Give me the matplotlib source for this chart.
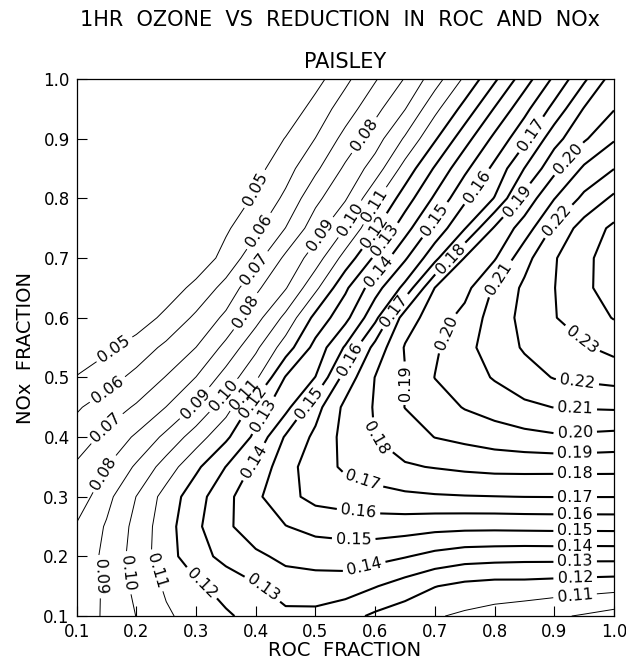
import matplotlib
matplotlib.use("Agg")
import matplotlib.pyplot as plt
import numpy as np

# grid of the isopleth diagram (ROC fraction along x, NOx fraction along y)
roc = [0.10, 0.15, 0.20, 0.25, 0.30, 0.35, 0.40, 0.45, 0.50, 0.55,
       0.60, 0.65, 0.70, 0.75, 0.80, 0.85, 0.90, 0.95, 1.00]
nox = [0.10, 0.15, 0.20, 0.25, 0.30, 0.35, 0.40, 0.45, 0.50, 0.55,
       0.60, 0.65, 0.70, 0.75, 0.80, 0.85, 0.90, 0.95, 1.00]

# peak 1hr ozone (ppm), one row per NOx fraction, bottom row first
ozone = [
    [0.084, 0.0917, 0.1002, 0.1086, 0.1139, 0.1186, 0.1235, 0.1275, 0.1275, 0.1235, 0.1182, 0.1145, 0.1109, 0.1083, 0.106, 0.1037, 0.1014, 0.099, 0.096],
    [0.082, 0.092, 0.1025, 0.1115, 0.118, 0.124, 0.129, 0.135, 0.1353, 0.135, 0.1305, 0.1255, 0.1203, 0.1174, 0.1161, 0.1162, 0.1153, 0.1145, 0.1137],
    [0.083, 0.0925, 0.104, 0.116, 0.126, 0.133, 0.138, 0.1424, 0.1441, 0.1448, 0.1433, 0.1406, 0.137, 0.1344, 0.1337, 0.1332, 0.1333, 0.1331, 0.1332],
    [0.081, 0.091, 0.103, 0.116, 0.128, 0.138, 0.146, 0.1497, 0.153, 0.154, 0.1548, 0.1543, 0.153, 0.1525, 0.1524, 0.1527, 0.1529, 0.1529, 0.153],
    [0.0738, 0.087, 0.1002, 0.114, 0.126, 0.137, 0.148, 0.157, 0.163, 0.165, 0.1665, 0.168, 0.169, 0.1695, 0.1698, 0.1701, 0.1702, 0.1702, 0.1702],
    [0.0716, 0.080, 0.0915, 0.1045, 0.118, 0.1302, 0.1424, 0.1564, 0.1652, 0.1717, 0.1753, 0.179, 0.1805, 0.182, 0.183, 0.1831, 0.183, 0.1831, 0.183],
    [0.0643, 0.0727, 0.0815, 0.0925, 0.105, 0.1181, 0.1325, 0.1512, 0.1622, 0.1732, 0.1802, 0.185, 0.1902, 0.1925, 0.195, 0.197, 0.1985, 0.198, 0.197],
    [0.0589, 0.0647, 0.0712, 0.0802, 0.0914, 0.1058, 0.1248, 0.1368, 0.1563, 0.1725, 0.1808, 0.1902, 0.1954, 0.2006, 0.2042, 0.2078, 0.2102, 0.2108, 0.2113],
    [0.0505, 0.0562, 0.0626, 0.0705, 0.0802, 0.0941, 0.108, 0.1307, 0.1402, 0.164, 0.1803, 0.1896, 0.2002, 0.2054, 0.2108, 0.2162, 0.2205, 0.222, 0.2235],
    [0.043, 0.048, 0.0547, 0.0621, 0.0701, 0.0828, 0.098, 0.115, 0.1334, 0.1512, 0.1734, 0.1908, 0.1985, 0.207, 0.2147, 0.221, 0.2249, 0.2289, 0.233],
    [0.036, 0.040, 0.044, 0.0527, 0.0618, 0.0722, 0.0863, 0.1026, 0.123, 0.137, 0.1574, 0.185, 0.1951, 0.2032, 0.2145, 0.2228, 0.2295, 0.2353, 0.2405],
    [0.030, 0.034, 0.038, 0.044, 0.053, 0.0632, 0.078, 0.0893, 0.1077, 0.1282, 0.146, 0.1629, 0.1902, 0.1968, 0.2113, 0.2219, 0.2298, 0.2374, 0.246],
    [0.023, 0.026, 0.030, 0.036, 0.043, 0.0536, 0.0664, 0.0821, 0.095, 0.114, 0.1319, 0.1487, 0.1669, 0.1905, 0.199, 0.2166, 0.2292, 0.2376, 0.245],
    [0.018, 0.022, 0.027, 0.032, 0.039, 0.0485, 0.0578, 0.0702, 0.0855, 0.1002, 0.1188, 0.1362, 0.1533, 0.1694, 0.1912, 0.2047, 0.222, 0.2344, 0.242],
    [0.014, 0.018, 0.022, 0.028, 0.034, 0.042, 0.0517, 0.062, 0.0774, 0.089, 0.108, 0.125, 0.1417, 0.158, 0.1705, 0.1933, 0.2097, 0.2224, 0.232],
    [0.012, 0.015, 0.019, 0.024, 0.030, 0.038, 0.0469, 0.0561, 0.068, 0.0818, 0.0947, 0.1139, 0.1311, 0.1477, 0.1626, 0.1802, 0.1972, 0.2117, 0.2198],
    [0.010, 0.012, 0.015, 0.019, 0.025, 0.032, 0.041, 0.0505, 0.0602, 0.0733, 0.0855, 0.1013, 0.1188, 0.136, 0.1525, 0.1674, 0.1863, 0.1987, 0.209],
    [0.009, 0.011, 0.013, 0.017, 0.021, 0.027, 0.034, 0.043, 0.0539, 0.065, 0.077, 0.0897, 0.1073, 0.1236, 0.1407, 0.157, 0.1732, 0.1907, 0.1995],
    [0.008, 0.010, 0.012, 0.015, 0.019, 0.024, 0.030, 0.038, 0.0464, 0.0577, 0.0691, 0.0806, 0.0955, 0.1117, 0.1283, 0.1454, 0.1619, 0.1783, 0.195],
]

levels = [0.05, 0.06, 0.07, 0.08, 0.09, 0.10, 0.11, 0.12, 0.13, 0.14,
          0.15, 0.16, 0.17, 0.18, 0.19, 0.20, 0.21, 0.22, 0.23, 0.24]
tick_values = [0.1, 0.2, 0.3, 0.4, 0.5, 0.6, 0.7, 0.8, 0.9, 1.0]

# where the labels sit on each isopleth
label_spots = {
    0.05: [(0.40, 0.815), (0.165, 0.545)],
    0.06: [(0.407, 0.744), (0.155, 0.475)],
    0.07: [(0.401, 0.68), (0.15, 0.415)],
    0.08: [(0.586, 0.903), (0.379, 0.613), (0.144, 0.34)],
    0.09: [(0.513, 0.736), (0.30, 0.455), (0.139, 0.166)],
    0.10: [(0.56, 0.764), (0.348, 0.468), (0.181, 0.172)],
    0.11: [(0.597, 0.789), (0.379, 0.473), (0.229, 0.175), (0.935, 0.132)],
    0.12: [(0.60, 0.744), (0.393, 0.46), (0.309, 0.155), (0.935, 0.165)],
    0.13: [(0.616, 0.73), (0.407, 0.44), (0.41, 0.144), (0.935, 0.192)],
    0.14: [(0.597, 0.686), (0.40, 0.356), (0.582, 0.181), (0.935, 0.217)],
    0.15: [(0.70, 0.764), (0.485, 0.462), (0.564, 0.228), (0.935, 0.242)],
    0.16: [(0.77, 0.82), (0.557, 0.53), (0.572, 0.275), (0.935, 0.27)],
    0.17: [(0.862, 0.906), (0.636, 0.608), (0.577, 0.323), (0.935, 0.30)],
    0.18: [(0.728, 0.697), (0.603, 0.40), (0.935, 0.338)],
    0.19: [(0.837, 0.797), (0.656, 0.49), (0.935, 0.375)],
    0.20: [(0.923, 0.867), (0.72, 0.574), (0.935, 0.41)],
    0.21: [(0.806, 0.667), (0.935, 0.445)],
    0.22: [(0.904, 0.764), (0.938, 0.487)],
    0.23: [(0.943, 0.56)],
}

fig = plt.figure(figsize=(6.26, 6.61), dpi=100)
ax = fig.add_axes([0.1225, 0.068, 0.8583, 0.8124])
z = np.array(ozone)

# one contour set per level, so manual labels snap to the right line
for lev in levels:
    lw = 0.7 if lev < 0.115 else 1.5
    cs = ax.contour(roc, nox, z, levels=[lev], colors="black", linewidths=lw)
    if lev in label_spots:
        ax.clabel(cs, manual=label_spots[lev], inline=True,
                  inline_spacing=4, fmt="%.2f", fontsize=11.5)

ax.set_xlim(0.1, 1.0)
ax.set_ylim(0.1, 1.0)
ax.set_xticks(tick_values)
ax.set_yticks(tick_values)
ax.set_xticklabels([f"{v:.1f}" for v in tick_values])
ax.set_yticklabels([f"{v:.1f}" for v in tick_values])
ax.tick_params(direction="in", length=7, width=0.8, labelsize=12,
               top=False, right=False, pad=5)
for spine in ax.spines.values():
    spine.set_linewidth(0.9)

ax.set_ylabel("NOx  FRACTION", fontsize=14, labelpad=6)
fig.text(0.551, 0.016, "ROC  FRACTION", ha="center", va="center", fontsize=14)

fig.text(0.543, 0.970, "1HR  OZONE  VS  REDUCTION  IN  ROC  AND  NOx",
         ha="center", va="center", fontsize=15)
fig.text(0.551, 0.906, "PAISLEY", ha="center", va="center", fontsize=15)

fig.savefig("out.png", dpi=100)
